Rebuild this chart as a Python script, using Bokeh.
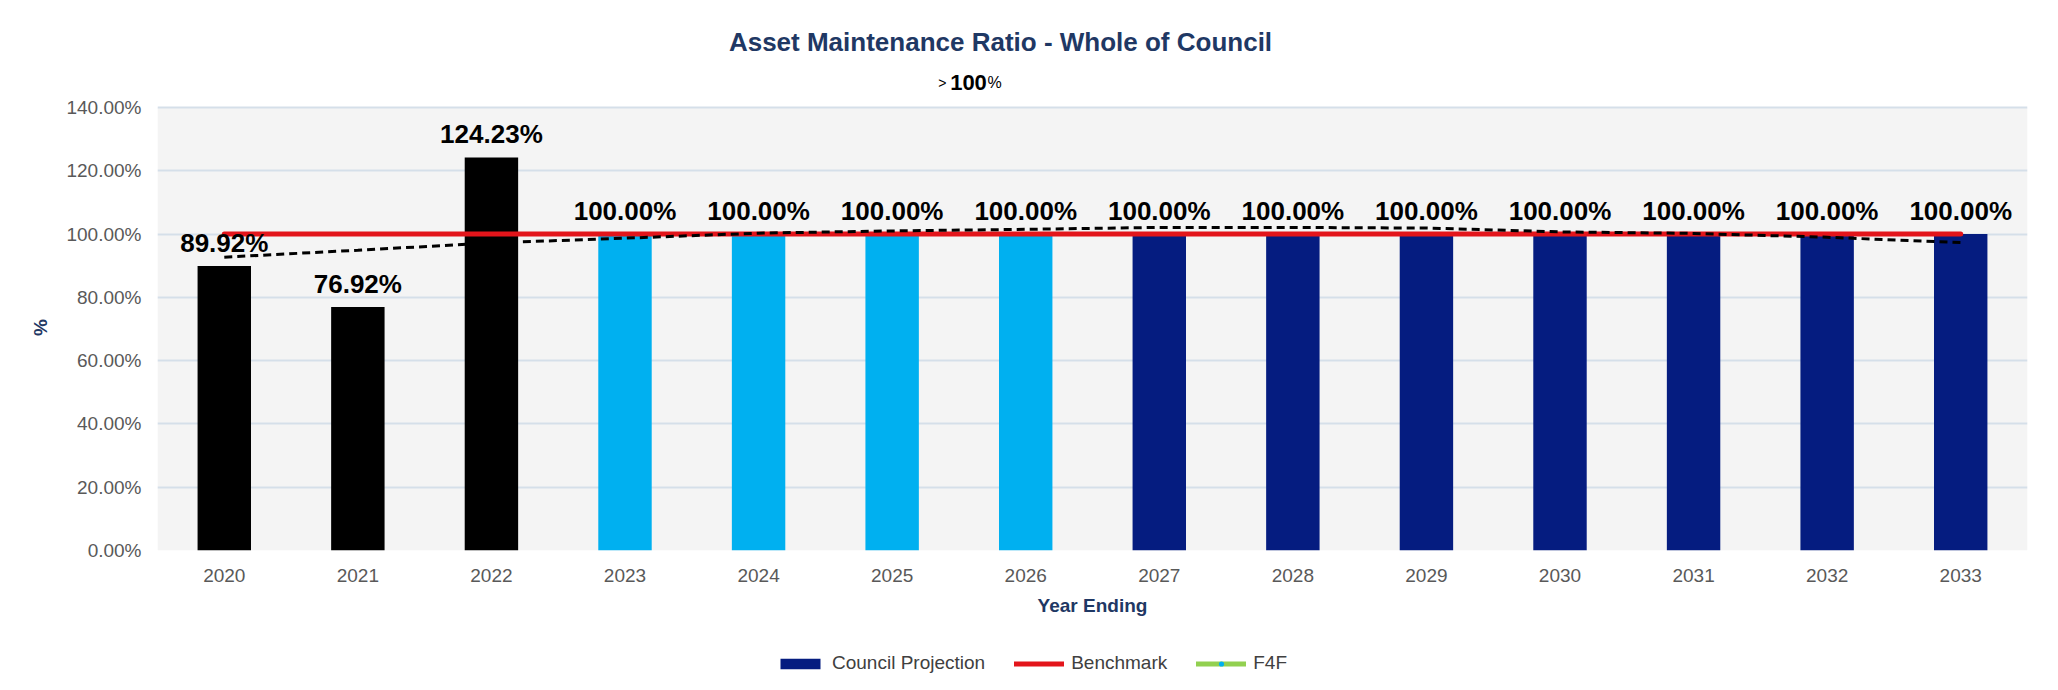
from bokeh.plotting import figure
from bokeh.layouts import column
from bokeh.models import (Range1d, FactorRange, Label, Legend, LegendItem,
                          PrintfTickFormatter, FixedTicker, ColumnDataSource, BoxAnnotation)
from bokeh.embed import file_html
from bokeh.resources import INLINE
from bokeh.core.properties import value

# ---------------- data ----------------
years = ["2020", "2021", "2022", "2023", "2024", "2025", "2026",
         "2027", "2028", "2029", "2030", "2031", "2032", "2033"]
ratio = [89.92, 76.92, 124.23, 100.00, 100.00, 100.00, 100.00,
         100.00, 100.00, 100.00, 100.00, 100.00, 100.00, 100.00]
periods = ["Actual"] * 3 + ["LTFP"] * 4 + ["Projection"] * 7
benchmark = [100.0] * 14
trend = [92.7, 94.9, 97.2, 98.7, 100.3, 101.0, 101.5,
         102.1, 102.1, 101.9, 100.7, 100.2, 99.0, 97.3]
f4f_years = []
f4f_values = []
y_ticks = [0, 20, 40, 60, 80, 100, 120, 140]

title_text = "Asset Maintenance Ratio - Whole of Council"
subtitle_parts = [">", "100", "%"]
legend_labels = ["Council Projection", "Benchmark", "F4F"]

# ---------------- style ----------------
FONT = "Liberation Sans"
period_colors = {"Actual": "#000000", "LTFP": "#00B0F0", "Projection": "#051C80"}
BENCH_COLOR = "#E3151B"
F4F_COLOR = "#92D050"
F4F_DOT = "#00B0F0"
TITLE_COLOR = "#1F3864"
TICK_COLOR = "#595959"
W = 2056
LEFT = 157
RIGHT = 29
TITLE_H = 96
MAIN_H = 534
LEGEND_H = 58
Y_AXIS_MAX = 140
Y_VIEW_MAX = 140.95
NAN = float("nan")


def blank(height):
    f = figure(width=W, height=height, x_range=Range1d(LEFT, W - RIGHT),
               y_range=Range1d(0, height), x_axis_location=None, y_axis_location=None,
               title_location=None, output_backend="svg", toolbar_location=None,
               min_border_left=LEFT, min_border_right=RIGHT, min_border_top=0,
               min_border_bottom=0, outline_line_color=None,
               background_fill_color="white", border_fill_color="white")
    f.grid.visible = False
    return f


# ---------------- title block ----------------
pt = blank(TITLE_H)
pt.add_layout(Label(x=1000, y=54.5, text=title_text, text_align="center",
                    text_baseline="alphabetic", text_font=FONT, text_font_style="bold",
                    text_font_size="26px", text_color=TITLE_COLOR))
pt.add_layout(Label(x=946, y=14, text=subtitle_parts[0], text_align="right",
                    text_baseline="alphabetic", text_font=FONT,
                    text_font_size="14px", text_color="black"))
pt.add_layout(Label(x=968, y=14, text=subtitle_parts[1], text_align="center",
                    text_baseline="alphabetic", text_font=FONT, text_font_style="bold",
                    text_font_size="22px", text_color="black"))
pt.add_layout(Label(x=987, y=14, text=subtitle_parts[2], text_align="left",
                    text_baseline="alphabetic", text_font=FONT,
                    text_font_size="16px", text_color="black"))

# ---------------- main chart ----------------
p = figure(x_range=FactorRange(*years), y_range=Range1d(0, Y_VIEW_MAX),
           width=W, height=MAIN_H, output_backend="svg", toolbar_location=None,
           title_location=None,
           min_border_left=LEFT, min_border_right=RIGHT, min_border_top=8,
           min_border_bottom=80, background_fill_color="white",
           border_fill_color="white", outline_line_color=None)

p.add_layout(BoxAnnotation(bottom=0, top=Y_AXIS_MAX, fill_color="#F4F4F4", fill_alpha=1,
                           line_color=None, level="image"))

for period in ["Actual", "LTFP", "Projection"]:
    idx = [i for i, pp in enumerate(periods) if pp == period]
    src = ColumnDataSource(dict(x=[years[i] for i in idx], top=[ratio[i] for i in idx]))
    p.vbar(x="x", top="top", width=0.4, source=src,
           fill_color=period_colors[period], line_color=None)

p.line(years, benchmark, line_color=BENCH_COLOR, line_width=5, line_cap="round")
p.line(years, trend, line_color="black", line_width=3, line_dash="8 5")
p.line(f4f_years, f4f_values, line_color=F4F_COLOR, line_width=5)

p.text(x=years, y=ratio, text=[f"{v:.2f}%" for v in ratio], text_align="center",
       text_baseline="alphabetic", y_offset=-23, text_font=value(FONT),
       text_font_style="bold", text_font_size="26px", text_color="black")

p.xgrid.grid_line_color = None
p.ygrid.grid_line_color = "#D5DFE9"
p.ygrid.grid_line_width = 2
p.yaxis.ticker = FixedTicker(ticks=y_ticks)
p.yaxis.formatter = PrintfTickFormatter(format="%.2f%%")
for ax in (p.xaxis, p.yaxis):
    ax.axis_line_color = None
    ax.major_tick_line_color = None
    ax.minor_tick_line_color = None
    ax.major_tick_out = 0
    ax.major_tick_in = 0
    ax.major_label_text_font = FONT
    ax.major_label_text_font_size = "19px"
    ax.major_label_text_color = TICK_COLOR
    ax.axis_label_text_font = FONT
    ax.axis_label_text_font_style = "bold"
    ax.axis_label_text_font_size = "19px"
    ax.axis_label_text_color = TITLE_COLOR
p.xaxis.axis_label = "Year Ending"
p.yaxis.axis_label = "%"
p.xaxis.major_label_standoff = 18
p.xaxis.axis_label_standoff = 10
p.yaxis.major_label_standoff = 16
p.yaxis.axis_label_standoff = 12

# ---------------- legend block ----------------
pl = blank(LEGEND_H)
lg_bar = pl.vbar(x=[NAN], top=[NAN], width=1, fill_color=period_colors["Projection"],
                 line_color=None)
lg_bench = pl.line(x=[NAN], y=[NAN], line_color=BENCH_COLOR, line_width=5, line_cap="round")
lg_f4f = pl.line(x=[NAN], y=[NAN], line_color=F4F_COLOR, line_width=5, line_cap="round")
lg_f4f_dot = pl.scatter(x=[NAN], y=[NAN], marker="circle", size=7, fill_color=F4F_DOT,
                        line_color=None)
legend = Legend(items=[
    LegendItem(label=legend_labels[0], renderers=[lg_bar]),
    LegendItem(label=legend_labels[1], renderers=[lg_bench]),
    LegendItem(label=legend_labels[2], renderers=[lg_f4f, lg_f4f_dot]),
], orientation="horizontal", location=(775 - LEFT, 14), padding=0, margin=0,
    spacing=29, glyph_width=50, glyph_height=13, label_standoff=7,
    label_height=20, label_text_font=FONT, label_text_font_size="19px",
    label_text_color="#404040", border_line_color=None, background_fill_alpha=0)
pl.add_layout(legend, "center")

open("out.html", "w").write(file_html(column(pt, p, pl, spacing=0), INLINE))
